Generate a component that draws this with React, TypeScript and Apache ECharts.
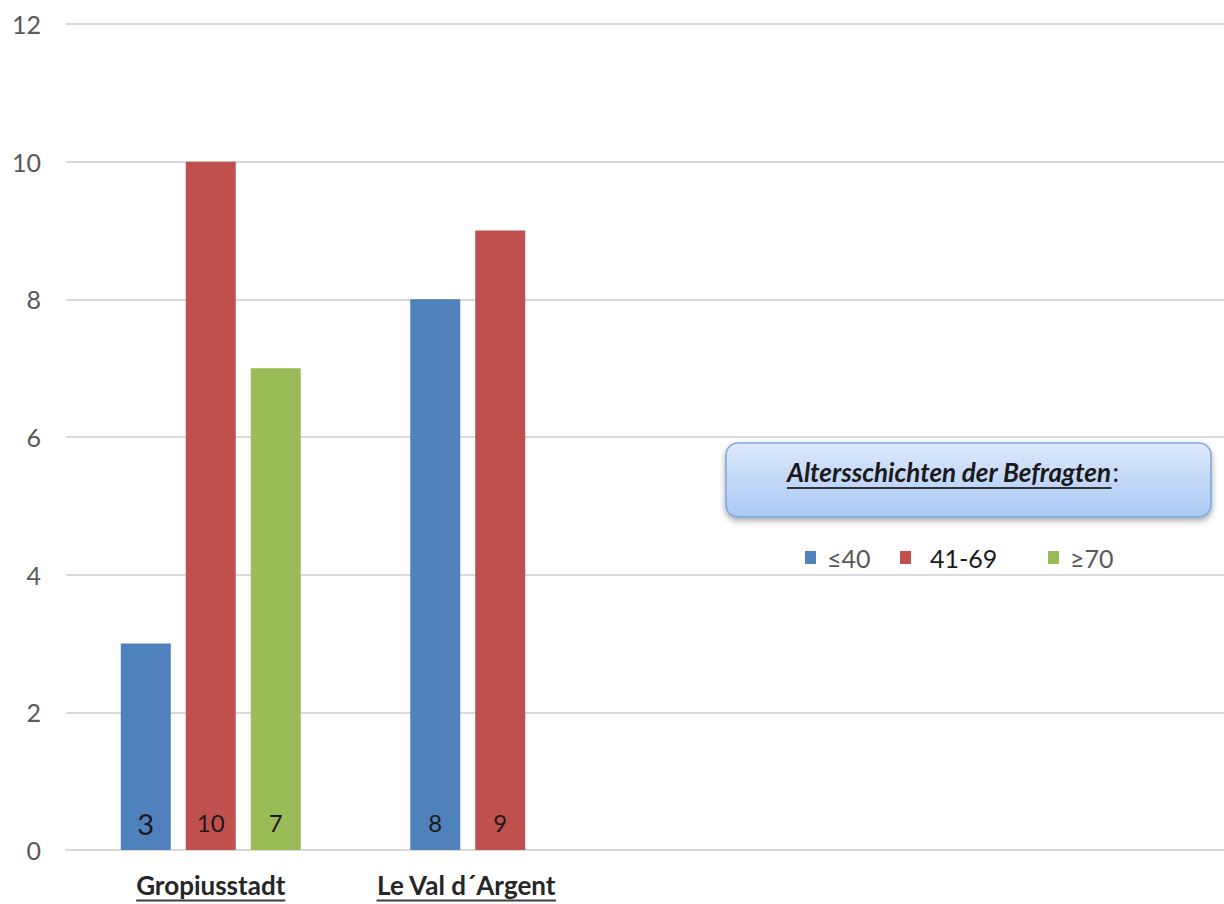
import React, { useEffect, useRef } from "react";
import * as echarts from "echarts";

const categories = ["Gropiusstadt", "Le Val d´Argent", "", ""];
const seriesNames = ["≤40", "41-69", "≥70"];
const under40 = [3, 8, null, null];
const mid41to69 = [10, 9, null, null];
const over70 = [7, null, null, null];
const colors = ["#4f81bd", "#c0504d", "#9bbb59"];
const legendTitle = "Altersschichten der Befragten";

const FONT = "Lato, 'Open Sans', sans-serif";

function measure(text: string, font: string): number {
  const c = document.createElement("canvas").getContext("2d");
  if (!c) return text.length * 13;
  c.font = font;
  return c.measureText(text).width;
}

export default function App() {
  const ref = useRef<HTMLDivElement>(null);
  useEffect(() => {
    if (!ref.current) return;
    const chart = echarts.init(ref.current, undefined, { renderer: "svg" });
    const catFont = "bold 26px Lato";
    const w0 = measure(categories[0], catFont);
    const w1 = measure(categories[1], catFont);
    const titleFont = "italic bold 26px Lato";
    const titleW = measure(legendTitle, titleFont);

    const mkSeries = (name: string, data: (number | null)[], color: string) => ({
      name,
      type: "bar",
      data: data.map((v, i) =>
        name === "≤40" && i === 0 && v != null
          ? { value: v, label: { fontSize: 29, distance: 12 } }
          : v
      ),
      barWidth: 50,
      barGap: "30%",
      itemStyle: { color },
      label: {
        show: true,
        position: "insideBottom",
        distance: 16,
        fontSize: 24,
        fontFamily: FONT,
        color: "#1a1a1a",
      },
    });

    const legendBase = {
      icon: "rect",
      itemWidth: 11,
      itemHeight: 13,
      top: 545,
      padding: 0,
      textStyle: { fontSize: 25, fontFamily: FONT, color: "#595959", padding: [0, 0, 0, 6] },
    };

    chart.setOption({
      animation: false,
      backgroundColor: "#ffffff",
      grid: { left: 66, right: 0, top: 24, bottom: 54, outerBoundsMode: "none" },
      xAxis: {
        type: "category",
        data: categories,
        axisLine: { show: true, lineStyle: { color: "#d9d9d9", width: 2 } },
        axisTick: { show: false },
        axisLabel: {
          margin: 21,
          interval: 0,
          formatter: (v: string, i: number) => {
            if (!v) return "";
            if (i === 0) return `{a|${v}}\n{u0| }`;
            return `{a|${v}}{p| }\n{u1| }{p| }`;
          },
          rich: {
            a: { fontSize: 26, fontWeight: "bold", fontFamily: FONT, color: "#262626", lineHeight: 28 },
            u0: { width: w0, height: 2, lineHeight: 3, fontSize: 2, backgroundColor: "#404040" },
            u1: { width: w1, height: 2, lineHeight: 3, fontSize: 2, backgroundColor: "#404040" },
            p: { width: 68, fontSize: 2 },
          },
        },
      },
      yAxis: {
        type: "value",
        min: 0,
        max: 12,
        interval: 2,
        axisLine: { show: false },
        axisTick: { show: false },
        axisLabel: { fontSize: 25, fontFamily: FONT, color: "#595959", margin: 25 },
        splitLine: { lineStyle: { color: "#d9d9d9", width: 2 } },
      },
      legend: [
        { ...legendBase, left: 805, data: [seriesNames[0]] },
        {
          ...legendBase,
          left: 900,
          data: [{ name: seriesNames[1], textStyle: { color: "#1a1a1a", padding: [0, 0, 0, 14] } }],
        },
        { ...legendBase, left: 1048, data: [seriesNames[2]] },
      ],
      graphic: [
        {
          type: "rect",
          shape: { x: 726, y: 443, width: 485, height: 74, r: 12 },
          style: {
            fill: new echarts.graphic.LinearGradient(0, 0, 0, 1, [
              { offset: 0, color: "#dde9fb" },
              { offset: 1, color: "#a9c8f5" },
            ]),
            stroke: "#7ea6dd",
            lineWidth: 1.5,
            shadowBlur: 6,
            shadowOffsetY: 3,
            shadowColor: "rgba(0,0,0,0.35)",
          },
          z: 100,
        },
        {
          type: "text",
          x: 787,
          y: 472,
          style: {
            text: legendTitle,
            font: titleFont,
            fill: "#1a1a1a",
            verticalAlign: "middle",
            textAlign: "left",
          },
          z: 101,
        },
        {
          type: "text",
          x: 787 + titleW + 1,
          y: 472,
          style: {
            text: ":",
            font: "26px Lato",
            fill: "#1a1a1a",
            verticalAlign: "middle",
            textAlign: "left",
          },
          z: 101,
        },
        {
          type: "line",
          shape: { x1: 787, y1: 488, x2: 787 + titleW, y2: 488 },
          style: { stroke: "#333333", lineWidth: 2 },
          z: 101,
        },
      ],
      series: [
        mkSeries(seriesNames[0], under40, colors[0]),
        mkSeries(seriesNames[1], mid41to69, colors[1]),
        mkSeries(seriesNames[2], over70, colors[2]),
      ],
    });
    return () => chart.dispose();
  }, []);
  return (
    <div
      ref={ref}
      style={{ position: "absolute", left: 0, top: 0, width: 1224, height: 904 }}
    />
  );
}
